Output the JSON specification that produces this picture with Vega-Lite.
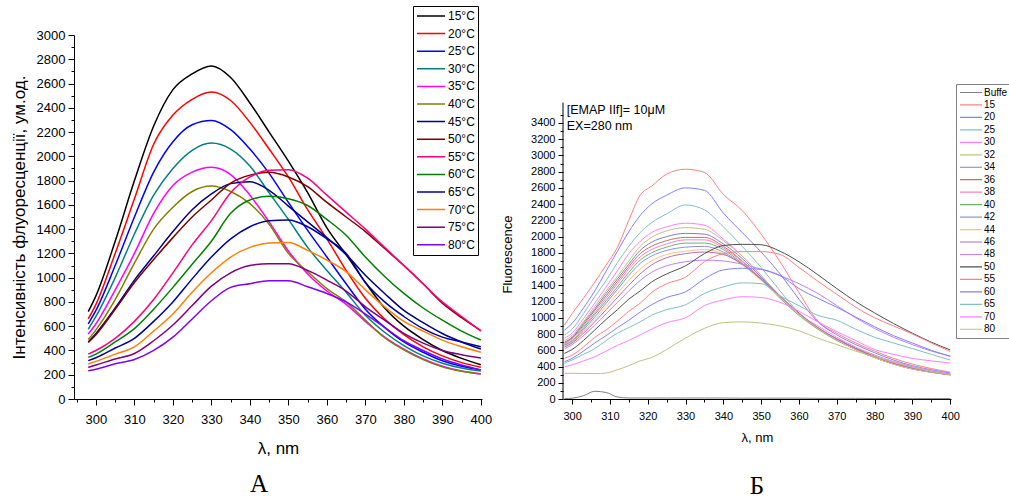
{
  "$schema": "https://vega.github.io/schema/vega-lite/v6.json",
  "padding": {"left": 10, "top": 5, "right": 0, "bottom": 0},
  "config": {
    "font": "Liberation Sans",
    "view": {"stroke": null},
    "axis": {"grid": false, "domainColor": "#000000", "tickColor": "#000000", "labelColor": "#000000", "titleColor": "#000000", "titleFontWeight": "normal", "labelFlush": false, "labelOverlap": false},
    "legend": {"labelColor": "#000000", "fillColor": "#ffffff", "symbolType": "stroke"},
    "title": {"font": "Liberation Serif", "fontWeight": "normal", "color": "#000000"}
  },
  "datasets": {
    "A": [
      {"nm": 298, "15°C": 720, "20°C": 660, "25°C": 620, "30°C": 575, "35°C": 535, "40°C": 490, "45°C": 470, "50°C": 465, "55°C": 370, "60°C": 343, "65°C": 316, "70°C": 289, "75°C": 261, "80°C": 233},
      {"nm": 300, "15°C": 850, "20°C": 780, "25°C": 730, "30°C": 680, "35°C": 620, "40°C": 570, "45°C": 540, "50°C": 530, "55°C": 400, "60°C": 370, "65°C": 340, "70°C": 310, "75°C": 280, "80°C": 245},
      {"nm": 305, "15°C": 1300, "20°C": 1200, "25°C": 1100, "30°C": 1000, "35°C": 900, "40°C": 820, "45°C": 750, "50°C": 740, "55°C": 500, "60°C": 470, "65°C": 420, "70°C": 370, "75°C": 330, "80°C": 290},
      {"nm": 310, "15°C": 1800, "20°C": 1650, "25°C": 1500, "30°C": 1360, "35°C": 1200, "40°C": 1120, "45°C": 980, "50°C": 960, "55°C": 640, "60°C": 580, "65°C": 500, "70°C": 430, "75°C": 375, "80°C": 325},
      {"nm": 315, "15°C": 2250, "20°C": 2100, "25°C": 1870, "30°C": 1680, "35°C": 1530, "40°C": 1400, "45°C": 1180, "50°C": 1150, "55°C": 820, "60°C": 740, "65°C": 640, "70°C": 560, "75°C": 480, "80°C": 400},
      {"nm": 320, "15°C": 2550, "20°C": 2340, "25°C": 2120, "30°C": 1900, "35°C": 1760, "40°C": 1580, "45°C": 1380, "50°C": 1330, "55°C": 1040, "60°C": 920, "65°C": 800, "70°C": 700, "75°C": 610, "80°C": 510},
      {"nm": 325, "15°C": 2680, "20°C": 2470, "25°C": 2260, "30°C": 2050, "35°C": 1870, "40°C": 1710, "45°C": 1560, "50°C": 1500, "55°C": 1270, "60°C": 1110, "65°C": 990, "70°C": 880, "75°C": 770, "80°C": 660},
      {"nm": 330, "15°C": 2745, "20°C": 2530, "25°C": 2295, "30°C": 2110, "35°C": 1910, "40°C": 1755, "45°C": 1690, "50°C": 1640, "55°C": 1470, "60°C": 1300, "65°C": 1170, "70°C": 1040, "75°C": 930, "80°C": 810},
      {"nm": 335, "15°C": 2650, "20°C": 2460, "25°C": 2220, "30°C": 2060, "35°C": 1850, "40°C": 1710, "45°C": 1775, "50°C": 1780, "55°C": 1700, "60°C": 1530, "65°C": 1320, "70°C": 1170, "75°C": 1040, "80°C": 920},
      {"nm": 340, "15°C": 2440, "20°C": 2280, "25°C": 2060, "30°C": 1920, "35°C": 1680, "40°C": 1610, "45°C": 1790, "50°C": 1845, "55°C": 1830, "60°C": 1640, "65°C": 1420, "70°C": 1250, "75°C": 1100, "80°C": 950},
      {"nm": 345, "15°C": 2200, "20°C": 2060, "25°C": 1860, "30°C": 1700, "35°C": 1460, "40°C": 1440, "45°C": 1720, "50°C": 1868, "55°C": 1885, "60°C": 1670, "65°C": 1470, "70°C": 1285, "75°C": 1115, "80°C": 975},
      {"nm": 350, "15°C": 1960, "20°C": 1830, "25°C": 1620, "30°C": 1480, "35°C": 1220, "40°C": 1200, "45°C": 1590, "50°C": 1830, "55°C": 1890, "60°C": 1650, "65°C": 1475, "70°C": 1290, "75°C": 1115, "80°C": 975},
      {"nm": 355, "15°C": 1700, "20°C": 1560, "25°C": 1390, "30°C": 1250, "35°C": 1030, "40°C": 1050, "45°C": 1460, "50°C": 1750, "55°C": 1820, "60°C": 1595, "65°C": 1420, "70°C": 1225, "75°C": 1060, "80°C": 925},
      {"nm": 360, "15°C": 1410, "20°C": 1320, "25°C": 1170, "30°C": 1060, "35°C": 890, "40°C": 910, "45°C": 1330, "50°C": 1620, "55°C": 1680, "60°C": 1480, "65°C": 1320, "70°C": 1145, "75°C": 980, "80°C": 870},
      {"nm": 365, "15°C": 1190, "20°C": 1060, "25°C": 950, "30°C": 880, "35°C": 780, "40°C": 800, "45°C": 1190, "50°C": 1500, "55°C": 1540, "60°C": 1350, "65°C": 1200, "70°C": 1050, "75°C": 890, "80°C": 800},
      {"nm": 370, "15°C": 960, "20°C": 830, "25°C": 740, "30°C": 690, "35°C": 640, "40°C": 650, "45°C": 1020, "50°C": 1380, "55°C": 1400, "60°C": 1170, "65°C": 960, "70°C": 900, "75°C": 760, "80°C": 700},
      {"nm": 375, "15°C": 750, "20°C": 660, "25°C": 590, "30°C": 550, "35°C": 510, "40°C": 505, "45°C": 870, "50°C": 1240, "55°C": 1250, "60°C": 1010, "65°C": 800, "70°C": 760, "75°C": 650, "80°C": 590},
      {"nm": 380, "15°C": 600, "20°C": 530, "25°C": 470, "30°C": 440, "35°C": 410, "40°C": 405, "45°C": 730, "50°C": 1100, "55°C": 1100, "60°C": 870, "65°C": 680, "70°C": 640, "75°C": 540, "80°C": 480},
      {"nm": 385, "15°C": 490, "20°C": 430, "25°C": 385, "30°C": 355, "35°C": 330, "40°C": 325, "45°C": 630, "50°C": 950, "55°C": 950, "60°C": 750, "65°C": 580, "70°C": 560, "75°C": 460, "80°C": 400},
      {"nm": 390, "15°C": 400, "20°C": 355, "25°C": 315, "30°C": 295, "35°C": 270, "40°C": 265, "45°C": 540, "50°C": 790, "55°C": 800, "60°C": 650, "65°C": 510, "70°C": 485, "75°C": 400, "80°C": 330},
      {"nm": 395, "15°C": 335, "20°C": 300, "25°C": 270, "30°C": 255, "35°C": 230, "40°C": 228, "45°C": 470, "50°C": 670, "55°C": 680, "60°C": 560, "65°C": 470, "70°C": 430, "75°C": 365, "80°C": 280},
      {"nm": 400, "15°C": 283, "20°C": 262, "25°C": 240, "30°C": 230, "35°C": 206, "40°C": 206, "45°C": 412, "50°C": 563, "55°C": 560, "60°C": 486, "65°C": 431, "70°C": 385, "75°C": 338, "80°C": 240}
    ],
    "B": [
      {"nm": 298, "Buffe": 5, "15": 911, "20": 850, "25": 788, "30": 750, "32": 720, "34": 700, "36": 690, "38": 680, "40": 670, "42": 660, "44": 650, "46": 640, "48": 620, "50": 563, "55": 501, "60": 460, "65": 440, "70": 398, "80": 316},
      {"nm": 300, "Buffe": 10, "15": 1050, "20": 930, "25": 860, "30": 810, "32": 780, "34": 760, "36": 750, "38": 740, "40": 720, "42": 710, "44": 700, "46": 690, "48": 670, "50": 610, "55": 540, "60": 500, "65": 480, "70": 420, "80": 316},
      {"nm": 303, "Buffe": 40, "15": 1240, "20": 1120, "25": 1050, "30": 990, "32": 950, "34": 930, "36": 910, "38": 890, "40": 870, "42": 850, "44": 830, "46": 810, "48": 780, "50": 720, "55": 640, "60": 590, "65": 550, "70": 470, "80": 315},
      {"nm": 306, "Buffe": 95, "15": 1440, "20": 1330, "25": 1260, "30": 1180, "32": 1140, "34": 1110, "36": 1090, "38": 1060, "40": 1040, "42": 1010, "44": 980, "46": 950, "48": 910, "50": 850, "55": 760, "60": 690, "65": 620, "70": 520, "80": 312},
      {"nm": 309, "Buffe": 80, "15": 1650, "20": 1575, "25": 1460, "30": 1380, "32": 1330, "34": 1300, "36": 1270, "38": 1240, "40": 1210, "42": 1180, "44": 1140, "46": 1100, "48": 1050, "50": 980, "55": 850, "60": 780, "65": 720, "70": 590, "80": 320},
      {"nm": 312, "Buffe": 25, "15": 1870, "20": 1820, "25": 1680, "30": 1580, "32": 1510, "34": 1480, "36": 1450, "38": 1420, "40": 1380, "42": 1350, "44": 1300, "46": 1250, "48": 1190, "50": 1100, "55": 960, "60": 880, "65": 810, "70": 660, "80": 360},
      {"nm": 315, "Buffe": 12, "15": 2200, "20": 2060, "25": 1880, "30": 1790, "32": 1700, "34": 1660, "36": 1630, "38": 1600, "40": 1560, "42": 1520, "44": 1460, "46": 1400, "48": 1330, "50": 1230, "55": 1080, "60": 970, "65": 880, "70": 720, "80": 410},
      {"nm": 318, "Buffe": 12, "15": 2510, "20": 2260, "25": 2050, "30": 1940, "32": 1880, "34": 1830, "36": 1790, "38": 1750, "40": 1710, "42": 1670, "44": 1600, "46": 1540, "48": 1460, "50": 1330, "55": 1180, "60": 1070, "65": 950, "70": 790, "80": 470},
      {"nm": 321, "Buffe": 12, "15": 2620, "20": 2400, "25": 2170, "30": 2050, "32": 1990, "34": 1930, "36": 1880, "38": 1840, "40": 1800, "42": 1760, "44": 1700, "46": 1650, "48": 1560, "50": 1440, "55": 1310, "60": 1160, "65": 1030, "70": 860, "80": 510},
      {"nm": 325, "Buffe": 12, "15": 2770, "20": 2510, "25": 2280, "30": 2120, "32": 2070, "34": 2000, "36": 1950, "38": 1910, "40": 1870, "42": 1830, "44": 1780, "46": 1740, "48": 1640, "50": 1540, "55": 1420, "60": 1250, "65": 1100, "70": 940, "80": 610},
      {"nm": 330, "Buffe": 12, "15": 2830, "20": 2600, "25": 2390, "30": 2165, "32": 2110, "34": 2040, "36": 1990, "38": 1960, "40": 1920, "42": 1870, "44": 1820, "46": 1790, "48": 1690, "50": 1640, "55": 1500, "60": 1320, "65": 1160, "70": 1000, "80": 750},
      {"nm": 335, "Buffe": 12, "15": 2790, "20": 2570, "25": 2330, "30": 2140, "32": 2090, "34": 2030, "36": 1990, "38": 1960, "40": 1920, "42": 1880, "44": 1840, "46": 1810, "48": 1710, "50": 1790, "55": 1690, "60": 1480, "65": 1300, "70": 1150, "80": 870},
      {"nm": 340, "Buffe": 12, "15": 2520, "20": 2290, "25": 2120, "30": 1970, "32": 1950, "34": 1910, "36": 1880, "38": 1860, "40": 1840, "42": 1810, "44": 1790, "46": 1780, "48": 1700, "50": 1890, "55": 1790, "60": 1590, "65": 1380, "70": 1220, "80": 940},
      {"nm": 345, "Buffe": 10, "15": 2320, "20": 2050, "25": 1880, "30": 1760, "32": 1760, "34": 1730, "36": 1700, "38": 1690, "40": 1670, "42": 1660, "44": 1650, "46": 1660, "48": 1660, "50": 1905, "55": 1815, "60": 1610, "65": 1430, "70": 1260, "80": 950},
      {"nm": 350, "Buffe": 10, "15": 2030, "20": 1810, "25": 1620, "30": 1520, "32": 1520, "34": 1500, "36": 1480, "38": 1480, "40": 1470, "42": 1470, "44": 1460, "46": 1480, "48": 1600, "50": 1900, "55": 1815, "60": 1595, "65": 1420, "70": 1250, "80": 935},
      {"nm": 355, "Buffe": 10, "15": 1690, "20": 1540, "25": 1330, "30": 1260, "32": 1270, "34": 1260, "36": 1250, "38": 1250, "40": 1240, "42": 1250, "44": 1250, "46": 1270, "48": 1520, "50": 1820, "55": 1780, "60": 1520, "65": 1270, "70": 1190, "80": 900},
      {"nm": 360, "Buffe": 10, "15": 1310, "20": 1230, "25": 1060, "30": 1040, "32": 1050, "34": 1040, "36": 1040, "38": 1040, "40": 1030, "42": 1040, "44": 1040, "46": 1060, "48": 1420, "50": 1690, "55": 1620, "60": 1360, "65": 1150, "70": 1080, "80": 840},
      {"nm": 365, "Buffe": 8, "15": 960, "20": 950, "25": 870, "30": 900, "32": 880, "34": 870, "36": 870, "38": 870, "40": 860, "42": 870, "44": 870, "46": 880, "48": 1300, "50": 1530, "55": 1450, "60": 1240, "65": 1030, "70": 950, "80": 750},
      {"nm": 370, "Buffe": 8, "15": 810, "20": 790, "25": 740, "30": 760, "32": 740, "34": 740, "36": 730, "38": 730, "40": 720, "42": 730, "44": 730, "46": 740, "48": 1150, "50": 1360, "55": 1290, "60": 1130, "65": 970, "70": 830, "80": 670},
      {"nm": 375, "Buffe": 8, "15": 690, "20": 670, "25": 630, "30": 640, "32": 630, "34": 620, "36": 620, "38": 610, "40": 610, "42": 610, "44": 610, "46": 620, "48": 1000, "50": 1200, "55": 1130, "60": 1010, "65": 860, "70": 720, "80": 590},
      {"nm": 380, "Buffe": 6, "15": 590, "20": 570, "25": 540, "30": 540, "32": 530, "34": 520, "36": 520, "38": 510, "40": 510, "42": 510, "44": 510, "46": 520, "48": 870, "50": 1060, "55": 1000, "60": 890, "65": 760, "70": 610, "80": 520},
      {"nm": 385, "Buffe": 6, "15": 500, "20": 480, "25": 460, "30": 460, "32": 450, "34": 440, "36": 440, "38": 430, "40": 430, "42": 430, "44": 430, "46": 440, "48": 760, "50": 930, "55": 900, "60": 780, "65": 690, "70": 550, "80": 450},
      {"nm": 390, "Buffe": 5, "15": 430, "20": 410, "25": 400, "30": 400, "32": 390, "34": 380, "36": 380, "38": 370, "40": 370, "42": 370, "44": 370, "46": 380, "48": 670, "50": 810, "55": 800, "60": 690, "65": 620, "70": 500, "80": 390},
      {"nm": 395, "Buffe": 5, "15": 375, "20": 360, "25": 350, "30": 350, "32": 340, "34": 335, "36": 330, "38": 330, "40": 330, "42": 330, "44": 330, "46": 335, "48": 590, "50": 700, "55": 690, "60": 600, "65": 550, "70": 470, "80": 340},
      {"nm": 400, "Buffe": 5, "15": 330, "20": 320, "25": 310, "30": 310, "32": 300, "34": 300, "36": 300, "38": 300, "40": 295, "42": 300, "44": 300, "46": 300, "48": 530, "50": 605, "55": 585, "60": 525, "65": 480, "70": 443, "80": 300}
    ]
  },
  "hconcat": [
    {
      "width": 408,
      "height": 364,
      "title": {"text": "A", "orient": "bottom", "fontSize": 25, "dx": -19, "offset": 16},
      "layer": [
        {
          "data": {"name": "A"},
          "transform": [{"fold": ["15°C", "20°C", "25°C", "30°C", "35°C", "40°C", "45°C", "50°C", "55°C", "60°C", "65°C", "70°C", "75°C", "80°C"], "as": ["series", "value"]}],
          "mark": {"type": "line", "strokeWidth": 1.5, "interpolate": "monotone"},
          "encoding": {
            "x": {"field": "nm", "type": "quantitative", "scale": {"domain": [294.3, 400.3], "nice": false, "zero": false},
              "axis": {"title": "λ, nm", "values": [300, 310, 320, 330, 340, 350, 360, 370, 380, 390, 400], "format": "d", "labelFontSize": 13, "titleFontSize": 17, "tickSize": 6, "labelPadding": 8, "titlePadding": 14}},
            "y": {"field": "value", "type": "quantitative", "scale": {"domain": [0, 3000], "nice": false},
              "axis": {"title": "Інтенсивність флуоресценції, ум.од.", "values": [0, 200, 400, 600, 800, 1000, 1200, 1400, 1600, 1800, 2000, 2200, 2400, 2600, 2800, 3000], "format": "d", "labelFontSize": 13, "titleFontSize": 17, "tickSize": 6, "labelPadding": 3, "titlePadding": 8}},
            "color": {"field": "series", "type": "nominal",
              "scale": {"domain": ["15°C", "20°C", "25°C", "30°C", "35°C", "40°C", "45°C", "50°C", "55°C", "60°C", "65°C", "70°C", "75°C", "80°C"],
                "range": ["#000000", "#ff0000", "#0000ff", "#008080", "#ff00ff", "#808000", "#000080", "#800000", "#ff0080", "#008000", "#0000a0", "#ff8000", "#800080", "#8000ff"]},
              "legend": {"title": null, "orient": "none", "legendX": 339, "legendY": -29, "padding": 3, "labelFontSize": 12, "symbolSize": 784, "symbolStrokeWidth": 1.5, "clipHeight": 14, "rowPadding": 3.6, "labelOffset": 2, "strokeColor": "#000000"}}
          }
        },
        {
          "data": {"values": [{}]},
          "mark": {"type": "point", "opacity": 0},
          "encoding": {
            "x": {"datum": 300, "type": "quantitative", "scale": {"domain": [294.3, 400.3], "nice": false, "zero": false},
              "axis": {"orient": "bottom", "title": null, "labels": false, "domain": false, "tickSize": 3, "values": [295, 305, 315, 325, 335, 345, 355, 365, 375, 385, 395]}},
            "y": {"datum": 0, "type": "quantitative", "scale": {"domain": [0, 3000], "nice": false},
              "axis": {"orient": "left", "title": null, "labels": false, "domain": false, "tickSize": 3, "values": [100, 300, 500, 700, 900, 1100, 1300, 1500, 1700, 1900, 2100, 2300, 2500, 2700, 2900]}}
          }
        }
      ],
      "resolve": {"axis": {"x": "independent", "y": "independent"}}
    },
    {
      "width": 388,
      "height": 364,
      "title": {"text": "Б", "orient": "bottom", "fontSize": 25, "offset": 30},
      "layer": [
        {
          "data": {"name": "B"},
          "transform": [{"fold": ["Buffe", "15", "20", "25", "30", "32", "34", "36", "38", "40", "42", "44", "46", "48", "50", "55", "60", "65", "70", "80"], "as": ["series", "value"]}],
          "mark": {"type": "line", "strokeWidth": 1, "interpolate": "monotone"},
          "encoding": {
            "x": {"field": "nm", "type": "quantitative", "scale": {"domain": [297.6, 400.2], "nice": false, "zero": false},
              "axis": {"title": "λ, nm", "values": [300, 310, 320, 330, 340, 350, 360, 370, 380, 390, 400], "format": "d", "labelFontSize": 11, "titleFontSize": 13, "tickSize": 5, "labelPadding": 6, "titlePadding": 10}},
            "y": {"field": "value", "type": "quantitative", "scale": {"domain": [0, 4483], "nice": false},
              "axis": {"title": "Fluorescence", "domain": false, "values": [0, 200, 400, 600, 800, 1000, 1200, 1400, 1600, 1800, 2000, 2200, 2400, 2600, 2800, 3000, 3200, 3400], "format": "d", "labelFontSize": 11, "titleFontSize": 13, "tickSize": 5, "labelPadding": 3, "titleX": -49, "titleY": 219}},
            "color": {"field": "series", "type": "nominal",
              "scale": {"domain": ["Buffe", "15", "20", "25", "30", "32", "34", "36", "38", "40", "42", "44", "46", "48", "50", "55", "60", "65", "70", "80"],
                "range": ["#808080", "#ff8080", "#8080ff", "#80c0c0", "#ff80ff", "#c0c080", "#8080c0", "#c07070", "#ff80c0", "#70b070", "#9090e0", "#ffc080", "#b070b0", "#c080ff", "#505050", "#ff8080", "#8080ff", "#80c0c0", "#ff80ff", "#c0c080"]},
              "legend": {"title": null, "orient": "none", "legendX": 393, "legendY": 49, "padding": 3, "labelFontSize": 10, "symbolSize": 484, "symbolStrokeWidth": 1.2, "clipHeight": 11, "rowPadding": 1.46, "labelOffset": 1, "strokeColor": "#808080"}}
          }
        },
        {
          "data": {"values": [{}]},
          "mark": {"type": "rule", "color": "#000000", "strokeWidth": 1},
          "encoding": {
            "x": {"datum": 297.6, "type": "quantitative", "scale": {"domain": [297.6, 400.2], "nice": false, "zero": false},
              "axis": {"orient": "bottom", "title": null, "labels": false, "domain": false, "tickSize": 3, "values": [305, 315, 325, 335, 345, 355, 365, 375, 385, 395]}},
            "y": {"datum": 0, "type": "quantitative", "scale": {"domain": [0, 4483], "nice": false},
              "axis": {"orient": "left", "title": null, "labels": false, "domain": false, "tickSize": 3, "values": [100, 300, 500, 700, 900, 1100, 1300, 1500, 1700, 1900, 2100, 2300, 2500, 2700, 2900, 3100, 3300, 3500]}},
            "y2": {"datum": 3650}
          }
        },
        {
          "data": {"values": [{}]},
          "mark": {"type": "text", "text": ["[EMAP IIf]= 10μM", "EX=280 nm"], "align": "left", "baseline": "top", "fontSize": 12.5, "lineHeight": 16, "color": "#000000"},
          "encoding": {
            "x": {"datum": 298.6, "type": "quantitative", "axis": null},
            "y": {"datum": 3630, "type": "quantitative", "axis": null}
          }
        }
      ],
      "resolve": {"axis": {"x": "independent", "y": "independent"}}
    }
  ],
  "spacing": 81,
  "bounds": "flush",
  "resolve": {"scale": {"color": "independent", "x": "independent", "y": "independent"}}
}
